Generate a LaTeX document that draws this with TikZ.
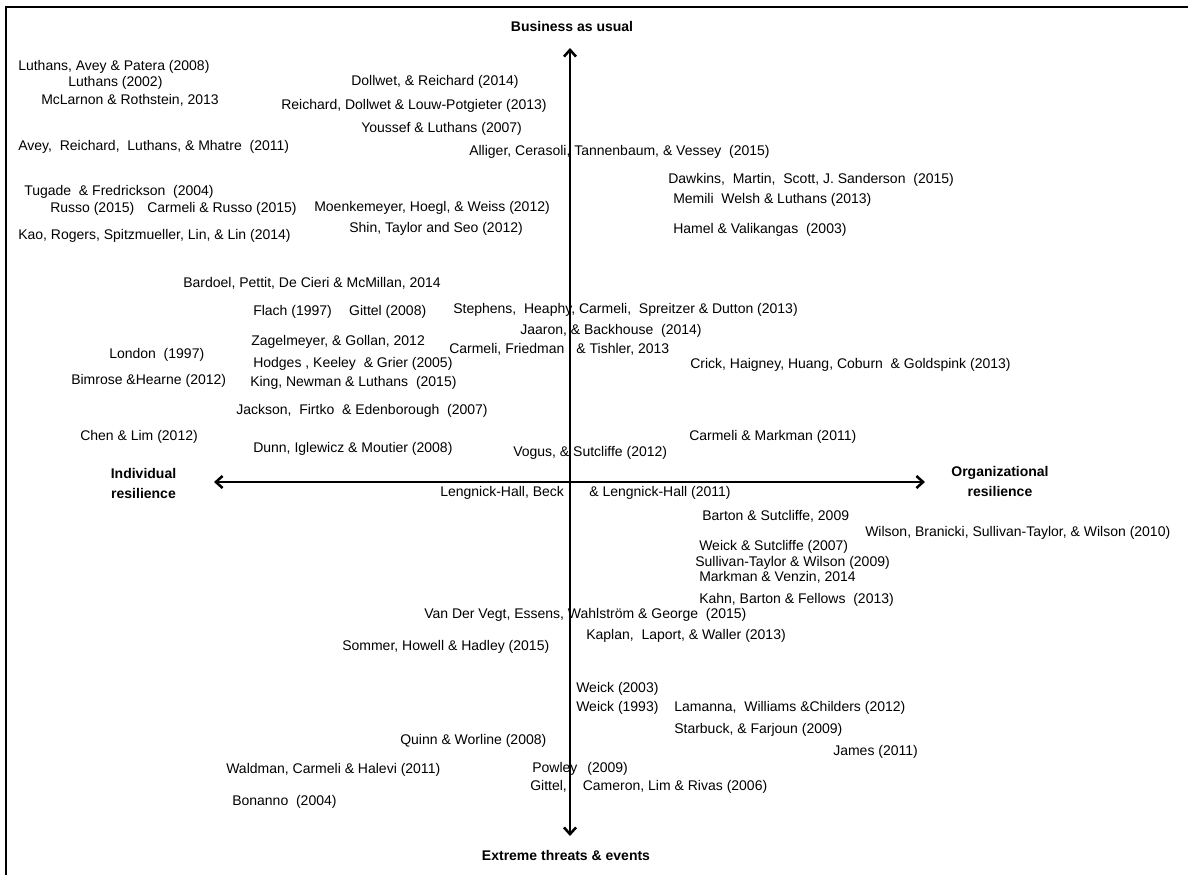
\documentclass[tikz,border=0pt]{standalone}
\usepackage{fontspec}
\setmainfont{Liberation Sans}
\usetikzlibrary{arrows.meta}
\begin{document}
\begin{tikzpicture}[x=0.75pt,y=-0.75pt,
  ref/.style={anchor=west, inner sep=0pt, font=\fontsize{10.5}{12.6}\selectfont, text height=7.6pt, text depth=2.2pt},
  axislabel/.style={align=center, inner sep=0pt, font=\bfseries\fontsize{10.5}{15}\selectfont},
  axisline/.style={line width=1.9pt, {Straight Barb[length=5pt,width=9pt]}-{Straight Barb[length=5pt,width=9pt]}},
  frameline/.style={line width=1.5pt}]
\fill[white] (0,0) rectangle (1188,875);
\useasboundingbox (0,0) rectangle (1188,875);
% frame
\draw[frameline] (6,875) -- (6,7) -- (1188,7);
% axes
\coordinate (ytop) at (570,48);
\coordinate (ybot) at (570,836);
\coordinate (xl) at (214,482);
\coordinate (xr) at (925,482);
\draw[axisline] (ybot) -- (ytop);
\draw[axisline] (xl) -- (xr);
% axis labels
\node[axislabel] (bua) at (572,26) {Business as usual};
\node[axislabel] (ext) at (566,855) {Extreme threats \& events};
\node[axislabel] (ind) at (143.5,483) {Individual\\resilience};
\node[axislabel] (org) at (1000,481) {Organizational\\resilience};
% top-left
\node[ref] (a1) at (18,67) {Luthans, Avey \& Patera (2008)};
\node[ref] (a2) at (68,83) {Luthans (2002)};
\node[ref] (a3) at (41,101) {McLarnon \& Rothstein, 2013};
\node[ref] (a4) at (18,147) {Avey,\ \ Reichard,\ \ Luthans, \& Mhatre\ \ (2011)};
\node[ref] (a5) at (24,192) {Tugade\ \ \& Fredrickson\ \ (2004)};
\node[ref] (a6) at (50,209) {Russo (2015)\hspace{9.75pt}Carmeli \& Russo (2015)};
\node[ref] (a7) at (18,236) {Kao, Rogers, Spitzmueller, Lin, \& Lin (2014)};
% top-middle
\node[ref] (b1) at (351,82) {Dollwet, \& Reichard (2014)};
\node[ref] (b2) at (281,106) {Reichard, Dollwet \& Louw-Potgieter (2013)};
\node[ref] (b3) at (361,129) {Youssef \& Luthans (2007)};
\node[ref] (b4) at (469,152) {Alliger, Cerasoli, Tannenbaum, \& Vessey\ \ (2015)};
\node[ref] (b5) at (314,208) {Moenkemeyer, Hoegl, \& Weiss (2012)};
\node[ref] (b6) at (349,229) {Shin, Taylor and Seo (2012)};
% top-right
\node[ref] (c1) at (668,180) {Dawkins,\ \ Martin,\ \ Scott, J. Sanderson\ \ (2015)};
\node[ref] (c2) at (673,200) {Memili\ \ Welsh \& Luthans (2013)};
\node[ref] (c3) at (673,230) {Hamel \& Valikangas\ \ (2003)};
% middle
\node[ref] (d1) at (183,284) {Bardoel, Pettit, De Cieri \& McMillan, 2014};
\node[ref] (d2) at (253,312) {Flach (1997)\hspace{13pt}Gittel (2008)};
\node[ref] (d3) at (453,310) {Stephens,\ \ Heaphy, Carmeli,\ \ Spreitzer \& Dutton (2013)};
\node[ref] (d4) at (520,331) {Jaaron, \& Backhouse\ \ (2014)};
\node[ref] (d5) at (251,342) {Zagelmeyer, \& Gollan, 2012};
\node[ref] (d6) at (449,350) {Carmeli, Friedman\hspace{9pt}\& Tishler, 2013};
\node[ref] (d7) at (109,355) {London\ \ (1997)};
\node[ref] (d8) at (253,364) {Hodges , Keeley\ \ \& Grier (2005)};
\node[ref] (d9) at (690,365) {Crick, Haigney, Huang, Coburn\ \ \& Goldspink (2013)};
\node[ref] (d10) at (71,381) {Bimrose \&Hearne (2012)};
\node[ref] (d11) at (250,383) {King, Newman \& Luthans\ \ (2015)};
\node[ref] (d12) at (236,411) {Jackson,\ \ Firtko\ \ \& Edenborough\ \ (2007)};
\node[ref] (d13) at (80,437) {Chen \& Lim (2012)};
\node[ref] (d14) at (689,437) {Carmeli \& Markman (2011)};
\node[ref] (d15) at (253,449) {Dunn, Iglewicz \& Moutier (2008)};
\node[ref] (d16) at (513,453) {Vogus, \& Sutcliffe (2012)};
\node[ref] (d17) at (440,493) {Lengnick-Hall, Beck\hspace{19pt}\& Lengnick-Hall (2011)};
% lower-right
\node[ref] (e1) at (702,517) {Barton \& Sutcliffe, 2009};
\node[ref] (e2) at (865,533) {Wilson, Branicki, Sullivan-Taylor, \& Wilson (2010)};
\node[ref] (e3) at (699,547) {Weick \& Sutcliffe (2007)};
\node[ref] (e4) at (695,563) {Sullivan-Taylor \& Wilson (2009)};
\node[ref] (e5) at (699,578) {Markman \& Venzin, 2014};
\node[ref] (e6) at (699,600) {Kahn, Barton \& Fellows\ \ (2013)};
\node[ref] (e7) at (424,615) {Van Der Vegt, Essens, Wahlström \& George\ \ (2015)};
\node[ref] (e8) at (586,636) {Kaplan,\ \ Laport, \& Waller (2013)};
\node[ref] (e9) at (342,647) {Sommer, Howell \& Hadley (2015)};
% bottom
\node[ref] (f1) at (576,689) {Weick (2003)};
\node[ref] (f2) at (576,708) {Weick (1993)};
\node[ref] (f3) at (674,708) {Lamanna,\ \ Williams \&Childers (2012)};
\node[ref] (f4) at (674,730) {Starbuck, \& Farjoun (2009)};
\node[ref] (f5) at (400,741) {Quinn \& Worline (2008)};
\node[ref] (f6) at (833,752) {James (2011)};
\node[ref] (f7) at (226,770) {Waldman, Carmeli \& Halevi (2011)};
\node[ref] (f8) at (532,769) {Powley\hspace{7.5pt}(2009)};
\node[ref] (f9) at (530,787) {Gittel,\hspace{12pt}Cameron, Lim \& Rivas (2006)};
\node[ref] (f10) at (232,802) {Bonanno\ \ (2004)};
\end{tikzpicture}
\end{document}
